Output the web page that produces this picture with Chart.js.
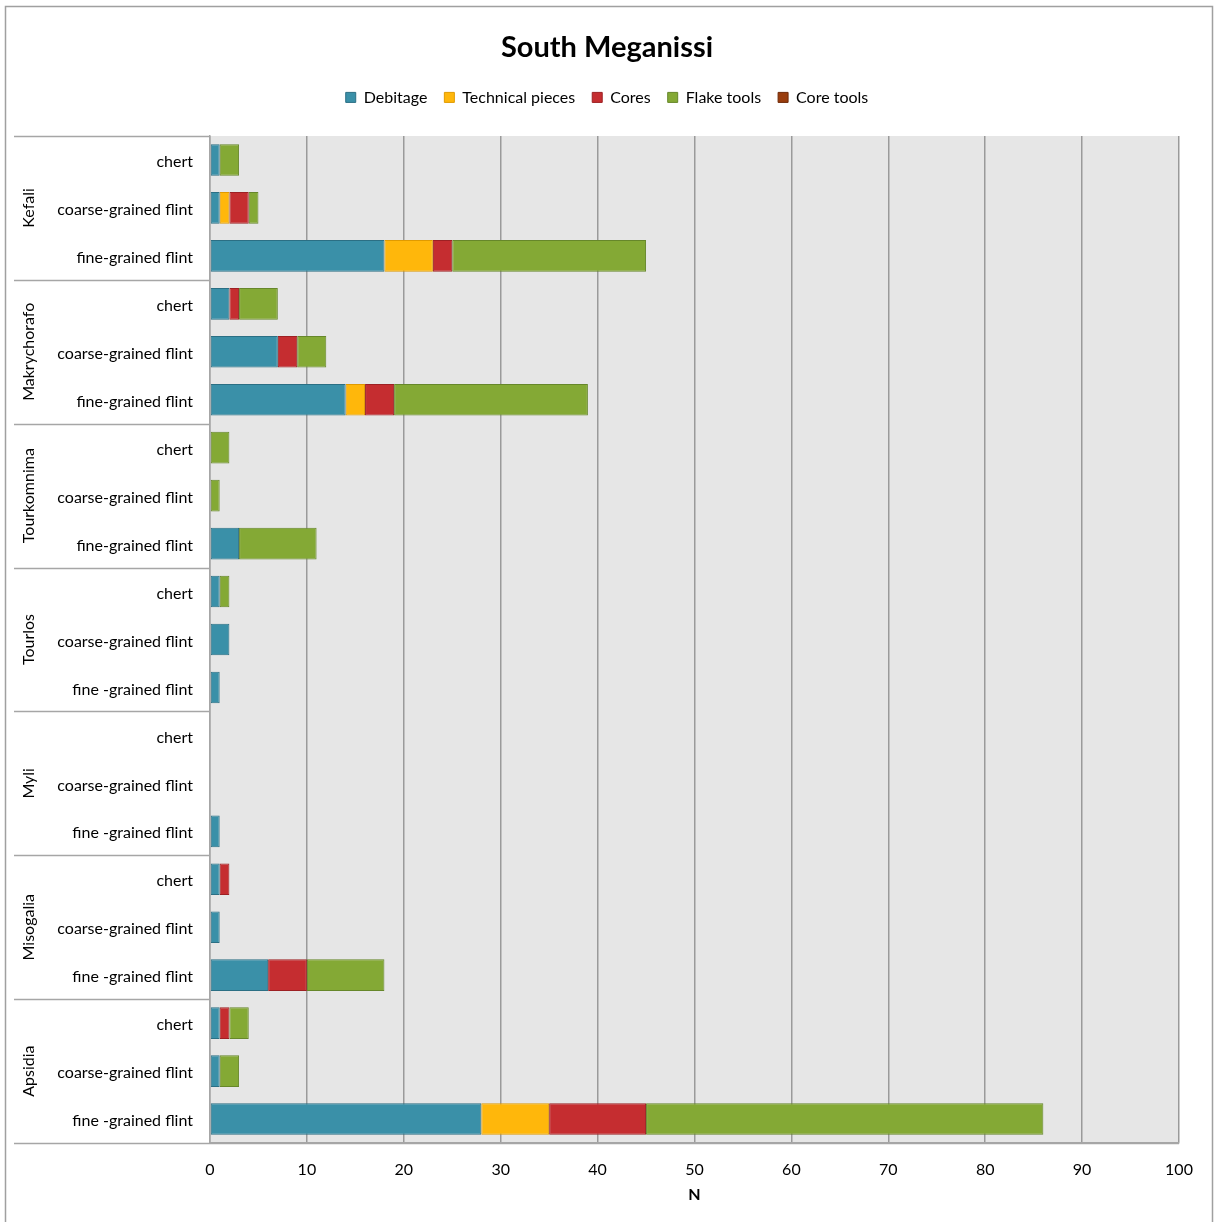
<!DOCTYPE html>
<html>
<head>
<meta charset="utf-8">
<script src="https://cdn.jsdelivr.net/npm/chart.js@4.4.1/dist/chart.umd.min.js"></script>
<style>
  html, body { margin: 0; padding: 0; background: #ffffff; }
  #wrap { position: relative; width: 1214px; height: 1222px; }
</style>
</head>
<body>
<div id="wrap"><canvas id="chart" width="1214" height="1222"></canvas></div>
<script>
// Sites (outer grouping) and raw-material rows, top to bottom
const sites = ['Kefali', 'Makrychorafo', 'Tourkomnima', 'Tourlos', 'Myli', 'Misogalia', 'Apsidia'];
const materials = [
  'chert', 'coarse-grained flint', 'fine-grained flint',
  'chert', 'coarse-grained flint', 'fine-grained flint',
  'chert', 'coarse-grained flint', 'fine-grained flint',
  'chert', 'coarse-grained flint', 'fine -grained flint',
  'chert', 'coarse-grained flint', 'fine -grained flint',
  'chert', 'coarse-grained flint', 'fine -grained flint',
  'chert', 'coarse-grained flint', 'fine -grained flint'
];

// Counts per artefact class, one entry per row above
const debitage       = [1, 1, 18,  2, 7, 14,  0, 0, 3,  1, 2, 1,  0, 0, 1,  1, 1, 6,  1, 1, 28];
const technicalPieces= [0, 1, 5,   0, 0, 2,   0, 0, 0,  0, 0, 0,  0, 0, 0,  0, 0, 0,  0, 0, 7];
const cores          = [0, 2, 2,   1, 2, 3,   0, 0, 0,  0, 0, 0,  0, 0, 0,  1, 0, 4,  1, 0, 10];
const flakeTools     = [2, 1, 20,  4, 3, 20,  2, 1, 8,  1, 0, 0,  0, 0, 0,  0, 0, 8,  2, 2, 41];
const coreTools      = [0, 0, 0,   0, 0, 0,   0, 0, 0,  0, 0, 0,  0, 0, 0,  0, 0, 0,  0, 0, 0];

const xTicks = [0, 10, 20, 30, 40, 50, 60, 70, 80, 90, 100];

const FONT = 'Lato, "Open Sans", sans-serif';
const LINE = '#a6a6a6';

// Empty band between the legend and the plot
const legendGap = {
  id: 'legendGap',
  beforeInit(chart) {
    Chart.layouts.addBox(chart, {
      position: 'top',
      weight: 500,
      fullSize: true,
      options: {},
      left: 0, top: 0, right: 0, bottom: 0, width: 0, height: 0,
      isHorizontal() { return true; },
      update(maxWidth) { this.width = maxWidth; this.height = 20.6; },
      draw() {}
    });
  }
};

// Outer frame, plot backdrop, site labels and separators
const decorations = {
  id: 'decorations',
  beforeDraw(chart) {
    const { ctx, chartArea: a } = chart;
    ctx.save();
    ctx.fillStyle = '#e6e6e6';
    ctx.fillRect(a.left, a.top, a.right - a.left, a.bottom - a.top);
    ctx.restore();
  },
  afterDraw(chart) {
    const { ctx, chartArea: a } = chart;
    const y = chart.scales.y;
    ctx.save();
    // frame
    ctx.strokeStyle = '#a0a0a0';
    ctx.lineWidth = 1.5;
    ctx.beginPath();
    ctx.moveTo(5.5, chart.height);
    ctx.lineTo(5.5, 6.5);
    ctx.lineTo(1212.5, 6.5);
    ctx.lineTo(1212.5, chart.height);
    ctx.stroke();

    // group separators on the category axis
    ctx.strokeStyle = LINE;
    ctx.lineWidth = 1.5;
    for (let g = 0; g <= sites.length; g++) {
      const py = Math.round(y.getPixelForValue(g * 3 - 0.5)) + 0.5;
      ctx.beginPath();
      ctx.moveTo(14, py);
      ctx.lineTo(g === sites.length ? a.right : a.left, py);
      ctx.stroke();
    }

    // site names, rotated
    ctx.fillStyle = '#000';
    ctx.font = '16px ' + FONT;
    ctx.textAlign = 'center';
    ctx.textBaseline = 'middle';
    sites.forEach((s, g) => {
      const cy = y.getPixelForValue(g * 3 + 1);
      ctx.save();
      ctx.translate(29, cy);
      ctx.rotate(-Math.PI / 2);
      ctx.fillText(s, 0, 0);
      ctx.restore();
    });
    ctx.restore();
  }
};

function ds(label, data, color, border) {
  return {
    label, data,
    backgroundColor: color,
    borderColor: border,
    borderWidth: 1,
    borderSkipped: false,
    categoryPercentage: 1,
    barPercentage: 0.66
  };
}

new Chart(document.getElementById('chart'), {
  type: 'bar',
  data: {
    labels: materials,
    datasets: [
      ds('Debitage', debitage, '#3a90a8', '#2b6f84'),
      ds('Technical pieces', technicalPieces, '#ffb70b', '#e09a00'),
      ds('Cores', cores, '#c52d30', '#9d2023'),
      ds('Flake tools', flakeTools, '#84a935', '#66872a'),
      ds('Core tools', coreTools, '#9a3d0d', '#6e2a08')
    ]
  },
  plugins: [legendGap, decorations],
  options: {
    indexAxis: 'y',
    responsive: false,
    animation: false,
    layout: { padding: { left: 0, right: 0, top: 0, bottom: 17.4 } },
    plugins: {
      title: {
        display: true,
        text: 'South Meganissi',
        color: '#000',
        font: { family: FONT, size: 29, weight: 'bold' },
        padding: { top: 30, bottom: 7.6 }
      },
      legend: {
        display: true,
        position: 'top',
        labels: {
          color: '#000',
          font: { family: FONT, size: 16 },
          boxWidth: 10,
          boxHeight: 10,
          padding: 17
        }
      },
      tooltip: { enabled: false }
    },
    scales: {
      x: {
        stacked: true,
        min: 0,
        max: 100,
        afterBuildTicks(scale) { scale.ticks = xTicks.map(v => ({ value: v })); },
        afterFit(scale) { scale.height = 61.6; },
        ticks: { color: '#000', font: { family: FONT, size: 16 }, padding: 17 },
        grid: { color: '#9a9a9a', lineWidth: 1.5, drawTicks: false, tickLength: 0 },
        border: { display: true, color: LINE, width: 1.5 },
        title: {
          display: true, text: 'N', color: '#000',
          font: { family: FONT, size: 16, weight: 'bold' },
          padding: { top: 0, bottom: 0 }
        }
      },
      y: {
        stacked: true,
        afterFit(scale) { scale.width = 210; },
        ticks: { color: '#000', font: { family: FONT, size: 16 }, padding: 17, autoSkip: false, labelOffset: 2 },
        grid: { display: false, drawTicks: false, tickLength: 0 },
        border: { display: true, color: LINE, width: 1.5 }
      },
      // right-hand margin so titles centre on the full width
      yRight: {
        type: 'category',
        position: 'right',
        afterFit(scale) { scale.width = 35; },
        ticks: { display: false },
        grid: { display: false, drawTicks: false },
        border: { display: false }
      }
    }
  }
});
</script>
</body>
</html>
